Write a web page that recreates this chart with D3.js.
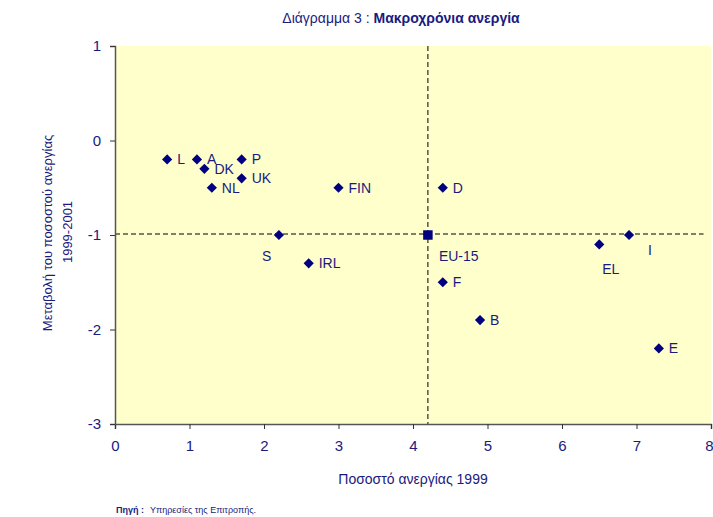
<!DOCTYPE html>
<html>
<head>
<meta charset="utf-8">
<script src="https://cdn.jsdelivr.net/npm/d3@7"></script>
<style>
  body { margin: 0; background: #fff; }
  svg text { font-family: "Liberation Sans Narrow", "Arial Narrow", "Liberation Sans", sans-serif; fill: #1a1a80; }
</style>
</head>
<body>
<svg id="chart" width="713" height="517"></svg>
<script>
// country codes and values
var countries = ["L", "A", "DK", "NL", "P", "UK", "FIN", "S", "IRL", "D", "F", "B", "EL", "I", "E"];
var rate1999  = [0.7, 1.1, 1.2, 1.3, 1.7, 1.7, 3.0, 2.2, 2.6, 4.4, 4.4, 4.9, 6.5, 6.9, 7.3];
var change    = [-0.2, -0.2, -0.3, -0.5, -0.2, -0.4, -0.5, -1.0, -1.3, -0.5, -1.5, -1.9, -1.1, -1.0, -2.2];
var euLabel = "EU-15";
var euRate = 4.2;
var euChange = -1.0;
var xTicks = [0, 1, 2, 3, 4, 5, 6, 7, 8];
var yTicks = [1, 0, -1, -2, -3];

// label placement (dx, dy from the point)
var labelPos = {
  "S":  [-17, 26],
  "EL": [3, 30],
  "I":  [19, 20],
  "DK": [10, 5],
  "A":  [10, 5]
};

var svg = d3.select("#chart");
var plotLeft = 115, plotRight = 711, plotTop = 46, plotBottom = 424;

var x = d3.scaleLinear().domain([0, 8]).range([plotLeft, plotRight]);
var y = d3.scaleLinear().domain([-3, 1]).range([plotBottom, plotTop]);

var navy = "#000080";

// plot background
svg.append("rect")
    .attr("x", plotLeft).attr("y", plotTop)
    .attr("width", plotRight - plotLeft).attr("height", plotBottom - plotTop)
    .attr("fill", "#ffffcc");

// dashed reference lines at EU-15
svg.append("line")
    .attr("x1", x(euRate)).attr("x2", x(euRate))
    .attr("y1", plotTop).attr("y2", plotBottom)
    .attr("stroke", "#000").attr("stroke-width", 1)
    .attr("stroke-dasharray", "5,3");
svg.append("line")
    .attr("x1", plotLeft).attr("x2", x(7.9))
    .attr("y1", y(euChange) - 1).attr("y2", y(euChange) - 1)
    .attr("stroke", "#000").attr("stroke-width", 1)
    .attr("stroke-dasharray", "5,3");

// axes
var plainFmt = function (d) { return String(d); };
var xAxis = d3.axisBottom(x).tickValues(xTicks).tickSize(5).tickPadding(11).tickFormat(plainFmt);
var yAxis = d3.axisLeft(y).tickValues(yTicks).tickSize(5).tickPadding(9).tickFormat(plainFmt);

var gx = svg.append("g").attr("transform", "translate(0," + plotBottom + ")").call(xAxis);
var gy = svg.append("g").attr("transform", "translate(" + plotLeft + ",0)").call(yAxis);

[gx, gy].forEach(function (g) {
    g.select(".domain").attr("stroke", "#555").attr("stroke-width", 1.5);
    g.selectAll(".tick line").attr("stroke", "#333");
    g.selectAll(".tick text")
        .style("font-size", "15px")
        .style("font-family", "'Liberation Sans Narrow', 'Arial Narrow', sans-serif")
        .attr("fill", "#1a1a80");
});
gx.select(".tick:last-of-type text").attr("text-anchor", "end").attr("dx", "2");

// country markers (diamonds = rotated squares)
var diamond = d3.symbol().type(d3.symbolSquare).size(52);
var pts = countries.map(function (c, i) {
    return { name: c, rx: rate1999[i], ry: change[i] };
});

svg.selectAll("path.pt")
    .data(pts)
    .enter()
    .append("path")
    .attr("class", "pt")
    .attr("d", diamond)
    .attr("transform", function (d) { return "translate(" + x(d.rx) + "," + y(d.ry) + ") rotate(45)"; })
    .attr("fill", navy);

svg.selectAll("text.lbl")
    .data(pts)
    .enter()
    .append("text")
    .attr("class", "lbl")
    .attr("x", function (d) { return x(d.rx) + (labelPos[d.name] ? labelPos[d.name][0] : 10); })
    .attr("y", function (d) { return y(d.ry) + (labelPos[d.name] ? labelPos[d.name][1] : 5); })
    .style("font-size", "14px")
    .text(function (d) { return d.name; });

// EU-15 square marker
svg.append("path")
    .attr("d", d3.symbol().type(d3.symbolSquare).size(90))
    .attr("transform", "translate(" + x(euRate) + "," + y(euChange) + ")")
    .attr("fill", navy);
svg.append("text")
    .attr("x", x(euRate) + 11).attr("y", y(euChange) + 26)
    .style("font-size", "14px")
    .text(euLabel);

// title
var title = svg.append("text")
    .attr("x", 401).attr("y", 23)
    .attr("text-anchor", "middle")
    .style("font-size", "14px");
title.append("tspan").text("Διάγραμμα 3 : ");
title.append("tspan").style("font-weight", "bold").text("Μακροχρόνια ανεργία");

// axis titles
svg.append("text")
    .attr("x", 413).attr("y", 484)
    .attr("text-anchor", "middle")
    .style("font-size", "14px")
    .text("Ποσοστό ανεργίας 1999");

svg.append("text")
    .attr("transform", "translate(52,233) rotate(-90)")
    .attr("text-anchor", "middle")
    .style("font-size", "13px")
    .text("Μεταβολή του ποσοστού ανεργίας");
svg.append("text")
    .attr("transform", "translate(72,232) rotate(-90)")
    .attr("text-anchor", "middle")
    .style("font-size", "13px")
    .text("1999-2001");

// source note
var src = svg.append("text")
    .attr("x", 116).attr("y", 513)
    .style("font-size", "9px");
src.append("tspan").style("font-weight", "bold").text("Πηγή :");
src.append("tspan").attr("dx", 6).text("Υπηρεσίες της Επιτροπής.");
</script>
</body>
</html>
